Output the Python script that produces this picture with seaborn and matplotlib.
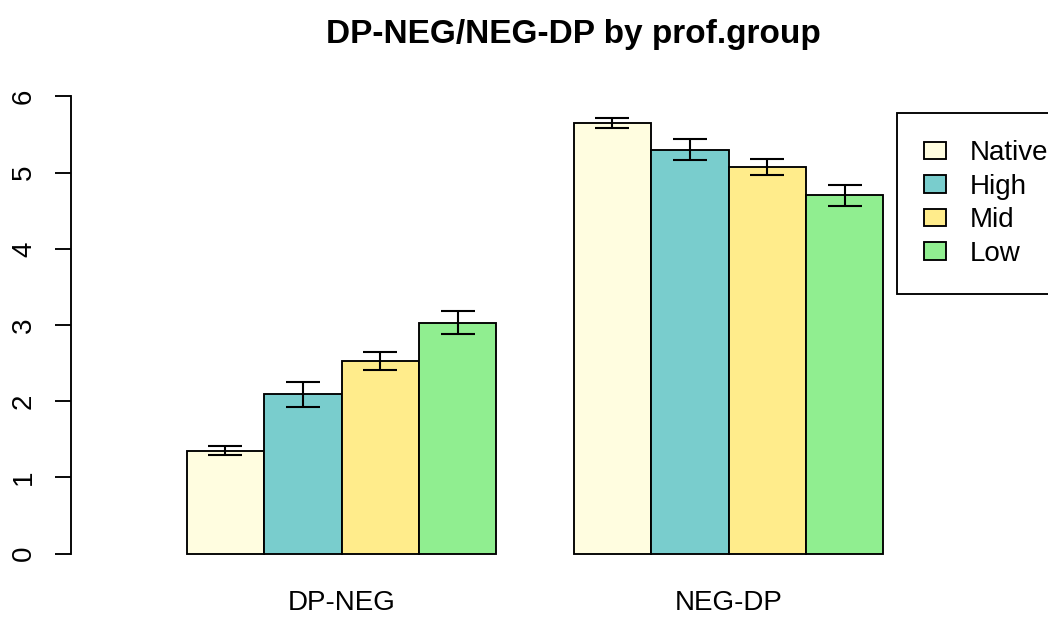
import matplotlib
matplotlib.use("Agg")
import matplotlib.pyplot as plt
import matplotlib.patches as mpatches
import seaborn as sns
import pandas as pd

# Conditions and proficiency groups
conditions = ["DP-NEG", "NEG-DP"]
prof_levels = ["Native", "High", "Mid", "Low"]

# Mean ratings and standard errors per proficiency group
dp_neg_means = [1.35, 2.09, 2.53, 3.03]
dp_neg_se = [0.06, 0.165, 0.12, 0.15]
neg_dp_means = [5.65, 5.30, 5.07, 4.70]
neg_dp_se = [0.065, 0.14, 0.105, 0.14]

bar_colors = ["#FFFDE0", "#79CDCD", "#FFEC8B", "#90EE90"]

rows = []
for cond, means, ses in [(conditions[0], dp_neg_means, dp_neg_se),
                         (conditions[1], neg_dp_means, neg_dp_se)]:
    for lvl, m, s in zip(prof_levels, means, ses):
        rows.append({"condition": cond, "prof": lvl, "mean": m, "se": s})
df = pd.DataFrame(rows)

sns.set_style("white")
plt.rcParams["font.family"] = ["Liberation Sans", "DejaVu Sans"]
plt.rcParams["text.color"] = "black"
plt.rcParams["xtick.color"] = "black"
plt.rcParams["ytick.color"] = "black"

W, H = 1048, 617
fig = plt.figure(figsize=(W / 100, H / 100), dpi=100)
ax_left, ax_right, ax_top, ax_bottom = 71, 1076, 78, 572
ax = fig.add_axes([ax_left / W, 1 - ax_bottom / H,
                   (ax_right - ax_left) / W, (ax_bottom - ax_top) / H])

sns.barplot(data=df, x="condition", y="mean", hue="prof",
            order=conditions, hue_order=prof_levels,
            palette=bar_colors, saturation=1, errorbar=None, width=0.8,
            edgecolor="black", linewidth=1.35, legend=False, ax=ax)

# Error bars at the centre of each bar
for lvl, container in zip(prof_levels, ax.containers):
    for cond, bar in zip(conditions, container):
        se = df[(df.condition == cond) & (df.prof == lvl)]["se"].iloc[0]
        ax.errorbar(bar.get_x() + bar.get_width() / 2, bar.get_height(),
                    yerr=se, fmt="none", ecolor="black", elinewidth=1.5,
                    capsize=12, capthick=1.5, zorder=5)

ax.set_ylim(-0.24, 6.24)
ax.set_xlim(-(341.5 - ax_left) / 387, (ax_right - 341.5) / 387)
ax.set_yticks(range(0, 7))
ax.set_yticklabels([str(v) for v in range(0, 7)], rotation=90, va="center",
                   fontsize=20)
ax.tick_params(axis="y", length=11.5, width=1.35, pad=13, color="black",
               labelcolor="black", left=True)
ax.tick_params(axis="x", length=0, pad=13, labelsize=20, labelcolor="black")
ax.set_xlabel("")
ax.set_ylabel("")

for side in ["top", "right", "bottom"]:
    ax.spines[side].set_visible(False)
ax.spines["left"].set_bounds(0, 6)
ax.spines["left"].set_linewidth(1.35)
ax.spines["left"].set_color("black")

fig.text(573.5 / W, 1 - 43 / H, "DP-NEG/NEG-DP by prof.group",
         ha="center", va="baseline", fontsize=24, fontweight="bold",
         color="black")

handles = [mpatches.Patch(facecolor=c, edgecolor="black", linewidth=1.35)
           for c in bar_colors]
leg = fig.legend(handles, prof_levels, loc="upper left",
                 bbox_to_anchor=(897 / W, 1 - 113 / H),
                 bbox_transform=fig.transFigure, borderaxespad=0,
                 fontsize=20, frameon=True, fancybox=False,
                 edgecolor="black", framealpha=1, handlelength=0.8,
                 handleheight=0.61, handletextpad=0.85, labelspacing=0.27,
                 borderpad=0.98)
leg.get_frame().set_linewidth(1.35)
for t in leg.get_texts():
    t.set_color("black")

fig.savefig("out.png", dpi=100)
